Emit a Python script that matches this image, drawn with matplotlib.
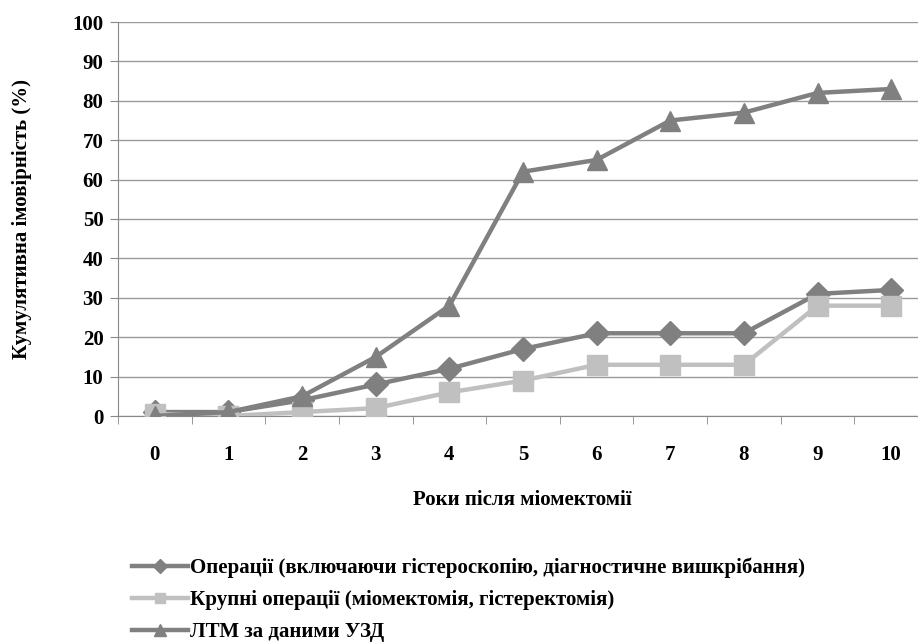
import numpy as np
import matplotlib
matplotlib.use("Agg")
import matplotlib.pyplot as plt

# Дані кумулятивної ймовірності по роках
years = [0, 1, 2, 3, 4, 5, 6, 7, 8, 9, 10]
ops_all = [1, 1, 4, 8, 12, 17, 21, 21, 21, 31, 32]
ops_major = [0.5, 0, 1, 2, 6, 9, 13, 13, 13, 28, 28]
ltm_usd = [0, 1, 5, 15, 28, 62, 65, 75, 77, 82, 83]

labels = [
    "Операції (включаючи гістероскопію, діагностичне вишкрібання)",
    "Крупні операції (міомектомія, гістеректомія)",
    "ЛТМ за даними УЗД",
]

plt.rcParams['font.family'] = ['Liberation Serif', 'DejaVu Serif']
plt.rcParams['font.weight'] = 'bold'

DARK = '#808080'
LIGHT = '#c0c0c0'
FS = 15

fig = plt.figure(figsize=(9.18, 6.42), dpi=100)
W, H = 918, 642
# область графіка (у пікселях)
x0, x1 = 118, 928
y0, y1 = 416, 22
ax = fig.add_axes([x0 / W, 1 - y0 / H, (x1 - x0) / W, (y0 - y1) / H])

l1, = ax.plot(years, ops_all, color=DARK, lw=3.2, marker='D', ms=12.5, zorder=3)
l2, = ax.plot(years, ops_major, color=LIGHT, lw=3.2, marker='s', ms=14, zorder=4)
l3, = ax.plot(years, ltm_usd, color=DARK, lw=3.2, marker='^', ms=15, zorder=5)

ax.set_xlim(-0.5, 10.5)
ax.set_ylim(0, 100)
ax.set_yticks(np.arange(0, 101, 10))
ax.set_xticks(years)
ax.set_xticks(np.arange(-0.5, 10.6, 1), minor=True)
ax.tick_params(axis='x', which='major', length=0, pad=21, labelsize=FS)
ax.tick_params(axis='x', which='minor', length=5.5, color='#888888')
ax.tick_params(axis='y', length=5.5, color='#888888', labelsize=FS, pad=5)
for t in ax.get_xticklabels() + ax.get_yticklabels():
    t.set_fontweight('bold')

ax.grid(axis='y', color='#999999', lw=1)
ax.set_axisbelow(True)
for s in ['top', 'right']:
    ax.spines[s].set_visible(False)
ax.spines['left'].set_color('#888888')
ax.spines['bottom'].set_color('#888888')

fig.text(522 / W, 1 - 500 / H, "Роки після міомектомії", ha='center', va='center',
         fontsize=FS, fontweight='bold')
fig.text(22 / W, 1 - 219 / H, "Кумулятивна імовірність (%)", ha='center', va='center',
         rotation=90, fontsize=FS, fontweight='bold')

fig.legend([l1, l2, l3], labels, loc='upper left', bbox_to_anchor=(132 / W, 1 - 558 / H),
           frameon=False, prop={'size': FS, 'weight': 'bold'}, handlelength=2.7,
           handletextpad=0.1, labelspacing=0.56, markerscale=0.55, borderpad=0,
           borderaxespad=0)

fig.savefig("out.png", dpi=100)
